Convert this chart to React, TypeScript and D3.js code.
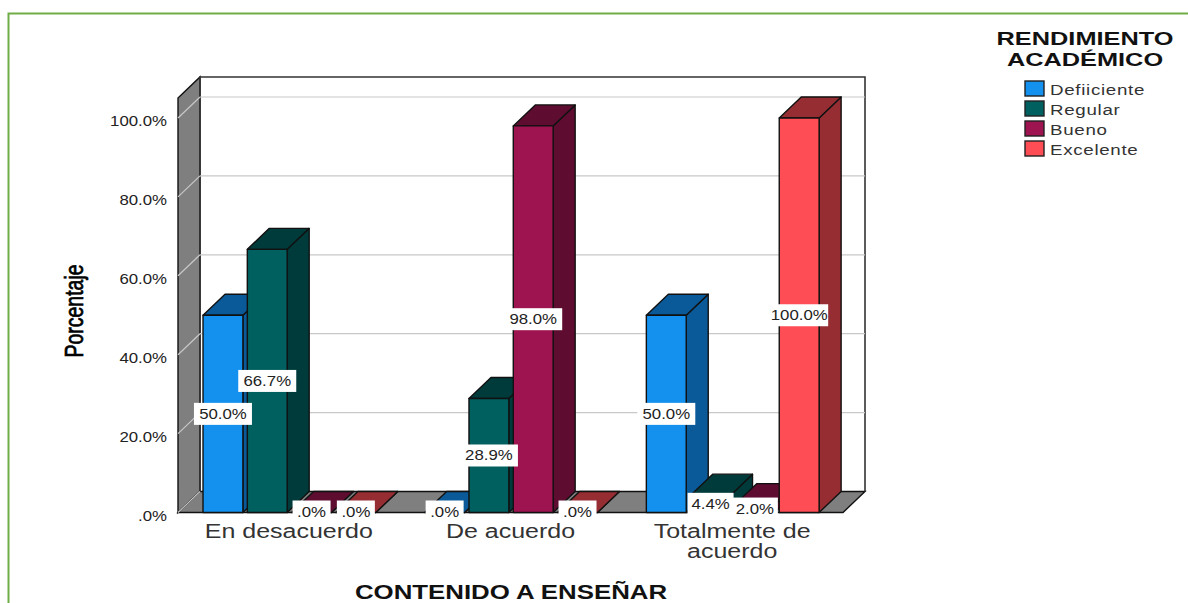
import * as d3 from "d3"

const categories = ["En desacuerdo", "De acuerdo", "Totalmente de acuerdo"]
const categoryLines = [["En desacuerdo"], ["De acuerdo"], ["Totalmente de", "acuerdo"]]
const seriesNames = ["Defiiciente", "Regular", "Bueno", "Excelente"]

const deficiente = [50, 0, 50]
const regular = [66.7, 28.9, 4.4]
const bueno = [0, 98, 2]
const excelente = [0, 0, 100]
const seriesValues = [deficiente, regular, bueno, excelente]

const yTicks = [0, 20, 40, 60, 80, 100]

const frontColors = ["#1490ee", "#005f5f", "#9e1450", "#ff4d55"]
const sideColors = ["#0a5a9a", "#003b3b", "#5e0c30", "#962d32"]

const FONT = "'Liberation Sans', Arial, sans-serif"

// front plane of the box, the back plane sits dx/dy away
const left = 178
const right = 843
const bottom = 512.5
const dx = 22
const dy = -21

const x0 = d3.scaleBand<string>().domain(categories).range([left, right])
const x1 = d3
  .scaleBand<string>()
  .domain(seriesNames)
  .range([22.8, 200])
  .paddingInner(0.1)
  .paddingOuter(0.05)
const y = d3.scaleLinear().domain([0, 100]).range([bottom, 118])
const wallTop = 98

const line = d3.line()
const poly = (pts: [number, number][]) => line(pts) + "Z"
const pct = (v: number) => d3.format(".1f")(v).replace(/^0\./, ".") + "%"

function Stretched({ x, y, sx = 1.2, size = 14, weight = 400, fill = "#222", anchor = "middle", spacing = 0, children }: any) {
  return (
    <text
      transform={`translate(${x},${y}) scale(${sx},1)`}
      fontFamily={FONT}
      fontSize={size}
      fontWeight={weight}
      fill={fill}
      textAnchor={anchor}
      letterSpacing={spacing}
    >
      {children}
    </text>
  )
}

function Bar({ bx, w, v, s }: { bx: number; w: number; v: number; s: number }) {
  const top = y(v)
  return (
    <g stroke="#111" strokeWidth={1.4} strokeLinejoin="round">
      <path
        d={poly([[bx + w, top], [bx + w + dx, top + dy], [bx + w + dx, bottom + dy], [bx + w, bottom]])}
        fill={sideColors[s]}
      />
      <path
        d={poly([[bx, top], [bx + dx, top + dy], [bx + w + dx, top + dy], [bx + w, top]])}
        fill={sideColors[s]}
      />
      {v > 0 && <rect x={bx} y={top} width={w} height={bottom - top} fill={frontColors[s]} />}
    </g>
  )
}

export default function App() {
  const w = x1.bandwidth()
  const labels = categories.flatMap((c, i) =>
    seriesNames.map((n, s) => ({
      key: c + n,
      x: (x0(c) as number) + (x1(n) as number) + w / 2,
      v: seriesValues[s][i],
    })),
  )

  return (
    <svg width={1188} height={603} style={{ position: "absolute", left: 0, top: 0, background: "#fff" }}>
      {/* green frame, runs off the page on the right and bottom */}
      <path d="M1188,13.5H8.5V603" fill="none" stroke="#70ad47" strokeWidth={2} />

      {/* walls and floor */}
      <path
        d={poly([[left, wallTop], [left + dx, wallTop + dy], [left + dx, bottom + dy], [left, bottom]])}
        fill="#7f7f7f"
        stroke="#111"
        strokeWidth={1.4}
      />
      <path
        d={poly([[left, bottom], [left + dx, bottom + dy], [right + dx, bottom + dy], [right, bottom]])}
        fill="#7f7f7f"
        stroke="#111"
        strokeWidth={1.4}
      />
      <path
        d={`M${left + dx},${bottom + dy}V${wallTop + dy}H${right + dx}V${bottom + dy}`}
        fill="none"
        stroke="#333"
        strokeWidth={1.6}
      />

      {/* gridlines */}
      {yTicks.map((t) => (
        <g key={t} fill="none" stroke="#c8c8c8" strokeWidth={1.2}>
          <path d={`M${left},${y(t)}L${left + dx},${y(t) + dy}`} />
          {t > 0 && <path d={`M${left + dx},${y(t) + dy}H${right + dx}`} />}
        </g>
      ))}

      {/* bars */}
      {categories.map((c, i) =>
        seriesNames.map((n, s) => (
          <Bar key={c + n} bx={(x0(c) as number) + (x1(n) as number)} w={w} v={seriesValues[s][i]} s={s} />
        )),
      )}

      {/* y axis */}
      {yTicks.map((t) => (
        <Stretched key={t} x={167} y={y(t) + 8} anchor="end">
          {pct(t)}
        </Stretched>
      ))}
      <text
        transform={`translate(83,311) rotate(-90) scale(0.75,1)`}
        fontFamily={FONT}
        fontSize={26}
        fill="#000"
        stroke="#000"
        strokeWidth={0.7}
        textAnchor="middle"
      >
        Porcentaje
      </text>

      {/* value labels */}
      {labels.map((d) => {
        const cy = d.v === 0 ? bottom - 1 : y(d.v / 2)
        const half = d.v >= 10 ? 29 : d.v > 0 ? 23 : 19
        return (
          <g key={d.key}>
            <rect x={d.x - half} y={cy - 11} width={half * 2} height={22} fill="#fff" />
            <Stretched x={d.x} y={cy + 5}>
              {pct(d.v)}
            </Stretched>
          </g>
        )
      })}

      {/* category labels */}
      {categories.map((c, i) =>
        categoryLines[i].map((l, j) => (
          <Stretched key={l} x={(x0(c) as number) + x0.bandwidth() / 2} y={538 + j * 20} sx={1.25} size={20} fill="#333">
            {l}
          </Stretched>
        )),
      )}
      <Stretched x={511} y={599} sx={1.23} size={21} weight={700} fill="#111">
        CONTENIDO A ENSEÑAR
      </Stretched>

      {/* legend */}
      <Stretched x={1085} y={44.5} sx={1.37} size={18.5} weight={700} fill="#111">
        RENDIMIENTO
      </Stretched>
      <Stretched x={1085} y={66} sx={1.37} size={18.5} weight={700} fill="#111">
        ACADÉMICO
      </Stretched>
      {seriesNames.map((n, s) => (
        <g key={n}>
          <rect x={1025} y={81 + s * 20} width={19} height={15} fill={frontColors[s]} stroke="#222" strokeWidth={1.4} />
          <Stretched x={1050} y={95 + s * 20} sx={1.25} size={15} spacing={0.55} anchor="start" fill="#333">
            {n}
          </Stretched>
        </g>
      ))}
    </svg>
  )
}
